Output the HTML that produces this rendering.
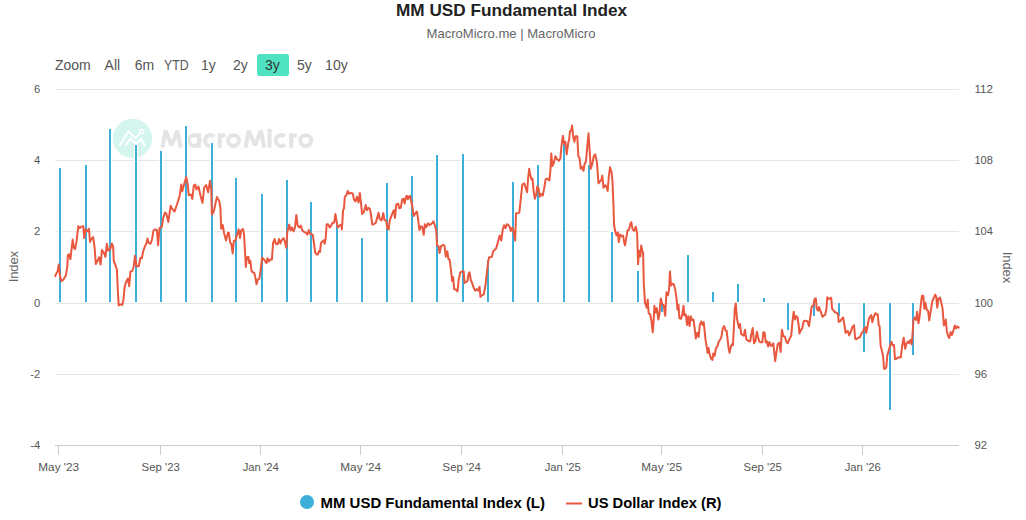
<!DOCTYPE html>
<html><head><meta charset="utf-8"><title>MM USD Fundamental Index</title>
<style>
html,body{margin:0;padding:0;background:#fff;}
body{width:1026px;height:520px;overflow:hidden;font-family:"Liberation Sans",sans-serif;}
svg{display:block;font-family:"Liberation Sans",sans-serif;}
</style></head><body>
<svg width="1026" height="520" viewBox="0 0 1026 520">
<rect width="1026" height="520" fill="#fff"/>
<text x="511.5" y="16" text-anchor="middle" font-size="16.6" font-weight="bold" fill="#222" id="title" textLength="231" lengthAdjust="spacingAndGlyphs">MM USD Fundamental Index</text>
<text x="511" y="38" text-anchor="middle" font-size="13" fill="#666" id="sub" textLength="169" lengthAdjust="spacingAndGlyphs">MacroMicro.me | MacroMicro</text>
<text x="55" y="70" font-size="14" fill="#555" id="zoom">Zoom</text>
<rect x="257" y="54" width="32" height="22" rx="2.5" fill="#50e3c2"/>
<text x="112.4" y="70" text-anchor="middle" font-size="14" fill="#555">All</text>
<text x="144.4" y="70" text-anchor="middle" font-size="14" fill="#555">6m</text>
<text x="176.4" y="70" text-anchor="middle" font-size="14" fill="#555" textLength="24.7" lengthAdjust="spacingAndGlyphs">YTD</text>
<text x="208.4" y="70" text-anchor="middle" font-size="14" fill="#555">1y</text>
<text x="240.4" y="70" text-anchor="middle" font-size="14" fill="#555">2y</text>
<text x="272.4" y="70" text-anchor="middle" font-size="14" fill="#333">3y</text>
<text x="304.4" y="70" text-anchor="middle" font-size="14" fill="#555">5y</text>
<text x="336.4" y="70" text-anchor="middle" font-size="14" fill="#555">10y</text>
<path d="M55 89.5H959" stroke="#e6e6e6" stroke-width="1" fill="none"/>
<path d="M55 160.5H959" stroke="#e6e6e6" stroke-width="1" fill="none"/>
<path d="M55 231.5H959" stroke="#e6e6e6" stroke-width="1" fill="none"/>
<path d="M55 303.5H959" stroke="#e6e6e6" stroke-width="1" fill="none"/>
<path d="M55 374.5H959" stroke="#e6e6e6" stroke-width="1" fill="none"/>
<g id="wm"><circle cx="132.5" cy="138.4" r="19.6" fill="#d4f6ee"/><path d="M119.4 146L128.4 131.5L135.6 138.2L140.2 132.9" stroke="#fff" stroke-width="1.9" fill="none"/><circle cx="141.7" cy="131.4" r="2" stroke="#fff" stroke-width="1.3" fill="none"/><path d="M125.5 146L130.2 138.8L136 143.8L141.3 138.8L144.9 146" stroke="#fff" stroke-width="1.9" fill="none"/><g fill="none" stroke="#e3e4e6" stroke-width="4.0"><path d="M162.3 147.7L165.6 130.7L171.5 145.2L177.4 130.7L180.7 147.7" stroke-linejoin="miter" stroke-miterlimit="2"/><circle cx="194.4" cy="140.6" r="5.45"/><path d="M198.9 133.2V147.7"/><path d="M214.1 136.5A5.45 5.45 0 1 0 214.1 144.6"/><path d="M219.7 133.2V147.7"/><path d="M219.7 141.6C219.7 134.7 222.2 135.2 225.3 135.4"/><circle cx="233.5" cy="140.6" r="5.45"/><path d="M245.5 147.7L248.8 130.7L254.9 145.2L260.9 130.7L264.3 147.7" stroke-linejoin="miter" stroke-miterlimit="2"/><path d="M269.5 133.2V147.7"/><path d="M284.9 136.5A5.45 5.45 0 1 0 284.9 144.6"/><path d="M291.2 133.2V147.7"/><path d="M291.2 141.6C291.2 134.7 293.7 135.2 296.8 135.4"/><circle cx="305.7" cy="140.6" r="5.45"/></g><circle cx="269.5" cy="130.9" r="2.4" fill="#e3e4e6"/></g>
<rect x="58" y="167" width="4" height="136" fill="#fff"/><rect x="59" y="168" width="2" height="134" fill="#3bafda"/>
<rect x="84" y="164" width="4" height="139" fill="#fff"/><rect x="85" y="165" width="2" height="137" fill="#3bafda"/>
<rect x="108" y="128" width="4" height="175" fill="#fff"/><rect x="109" y="129" width="2" height="173" fill="#3bafda"/>
<rect x="134" y="144" width="4" height="159" fill="#fff"/><rect x="135" y="145" width="2" height="157" fill="#3bafda"/>
<rect x="159" y="150" width="4" height="153" fill="#fff"/><rect x="160" y="151" width="2" height="151" fill="#3bafda"/>
<rect x="184" y="125" width="4" height="178" fill="#fff"/><rect x="185" y="126" width="2" height="176" fill="#3bafda"/>
<rect x="210" y="142" width="4" height="161" fill="#fff"/><rect x="211" y="143" width="2" height="159" fill="#3bafda"/>
<rect x="234" y="177" width="4" height="126" fill="#fff"/><rect x="235" y="178" width="2" height="124" fill="#3bafda"/>
<rect x="260" y="193" width="4" height="110" fill="#fff"/><rect x="261" y="194" width="2" height="108" fill="#3bafda"/>
<rect x="285" y="179" width="4" height="124" fill="#fff"/><rect x="286" y="180" width="2" height="122" fill="#3bafda"/>
<rect x="309" y="201" width="4" height="102" fill="#fff"/><rect x="310" y="202" width="2" height="100" fill="#3bafda"/>
<rect x="335" y="223" width="4" height="80" fill="#fff"/><rect x="336" y="224" width="2" height="78" fill="#3bafda"/>
<rect x="360" y="237" width="4" height="66" fill="#fff"/><rect x="361" y="238" width="2" height="64" fill="#3bafda"/>
<rect x="385" y="182" width="4" height="121" fill="#fff"/><rect x="386" y="183" width="2" height="119" fill="#3bafda"/>
<rect x="410" y="175" width="4" height="128" fill="#fff"/><rect x="411" y="176" width="2" height="126" fill="#3bafda"/>
<rect x="435" y="154" width="4" height="149" fill="#fff"/><rect x="436" y="155" width="2" height="147" fill="#3bafda"/>
<rect x="461" y="153" width="4" height="150" fill="#fff"/><rect x="462" y="154" width="2" height="148" fill="#3bafda"/>
<rect x="486" y="259" width="4" height="44" fill="#fff"/><rect x="487" y="260" width="2" height="42" fill="#3bafda"/>
<rect x="511" y="181" width="4" height="122" fill="#fff"/><rect x="512" y="182" width="2" height="120" fill="#3bafda"/>
<rect x="536" y="164" width="4" height="139" fill="#fff"/><rect x="537" y="165" width="2" height="137" fill="#3bafda"/>
<rect x="562" y="143" width="4" height="160" fill="#fff"/><rect x="563" y="144" width="2" height="158" fill="#3bafda"/>
<rect x="587" y="164" width="4" height="139" fill="#fff"/><rect x="588" y="165" width="2" height="137" fill="#3bafda"/>
<rect x="610" y="231" width="4" height="72" fill="#fff"/><rect x="611" y="232" width="2" height="70" fill="#3bafda"/>
<rect x="636" y="270" width="4" height="33" fill="#fff"/><rect x="637" y="271" width="2" height="31" fill="#3bafda"/>
<rect x="660" y="303" width="4" height="10" fill="#fff"/><rect x="661" y="303" width="2" height="9" fill="#3bafda"/>
<rect x="686" y="254" width="4" height="49" fill="#fff"/><rect x="687" y="255" width="2" height="47" fill="#3bafda"/>
<rect x="711" y="291" width="4" height="12" fill="#fff"/><rect x="712" y="292" width="2" height="10" fill="#3bafda"/>
<rect x="736" y="283" width="4" height="20" fill="#fff"/><rect x="737" y="284" width="2" height="18" fill="#3bafda"/>
<rect x="762" y="297" width="4" height="6" fill="#fff"/><rect x="763" y="298" width="2" height="4" fill="#3bafda"/>
<rect x="786" y="303" width="4" height="28" fill="#fff"/><rect x="787" y="303" width="2" height="27" fill="#3bafda"/>
<rect x="812" y="303" width="4" height="14" fill="#fff"/><rect x="813" y="303" width="2" height="13" fill="#3bafda"/>
<rect x="837" y="303" width="4" height="14" fill="#fff"/><rect x="838" y="303" width="2" height="13" fill="#3bafda"/>
<rect x="862" y="303" width="4" height="50" fill="#fff"/><rect x="863" y="303" width="2" height="49" fill="#3bafda"/>
<rect x="888" y="303" width="4" height="108" fill="#fff"/><rect x="889" y="303" width="2" height="107" fill="#3bafda"/>
<rect x="911" y="303" width="4" height="53" fill="#fff"/><rect x="912" y="303" width="2" height="52" fill="#3bafda"/>
<path d="M55.2 276.2L56.7 272.7L57.7 271.2L58.7 264.6L60.0 276.5L61.5 281.3L63.5 279.4L65.8 275.6L67.3 266.9L67.9 255.0L69.2 254.4L70.4 259.2L71.5 249.6L72.7 239.6L73.8 247.7L75.0 249.2L76.5 241.9L78.3 226.2L79.8 228.1L81.7 226.5L83.3 226.2L84.2 238.1L85.6 229.4L87.5 231.3L89.0 228.8L90.0 241.9L91.3 239.0L93.1 237.1L94.6 247.7L95.8 264.0L97.3 261.2L99.2 257.3L100.6 264.6L101.9 250.0L103.8 252.5L105.4 256.9L106.9 243.8L108.1 250.6L110.0 249.6L111.9 243.5L113.1 246.7L113.8 261.2L115.4 265.0L116.9 269.8L117.7 288.1L118.7 305.4L120.8 304.4L122.3 305.0L123.5 299.6L124.6 287.1L126.0 282.3L127.9 278.5L129.2 286.2L130.4 271.7L132.3 270.8L133.7 266.5L135.0 255.8L136.5 266.5L138.8 266.0L140.4 257.7L141.9 258.3L143.1 251.5L144.8 246.7L146.2 243.8L147.5 238.5L148.7 242.9L150.4 243.8L151.9 240.0L153.5 230.4L155.4 229.4L156.9 230.0L158.1 245.2L159.6 227.9L161.9 226.9L163.1 218.3L165.0 212.5L166.3 213.5L168.3 222.1L170.6 205.8L172.1 208.7L174.6 211.5L176.9 204.8L179.8 195.2L181.2 184.6L182.3 191.3L184.0 184.6L186.2 177.3L187.7 184.6L188.8 195.2L191.3 194.6L192.3 199.0L193.8 185.6L195.2 184.6L196.5 189.4L198.5 186.5L200.4 195.2L202.5 202.9L204.2 187.5L206.2 185.0L208.1 192.3L210.0 180.8L211.2 188.5L211.9 214.4L213.8 211.5L215.4 203.8L216.9 197.1L219.2 201.0L220.4 207.7L221.2 228.8L222.7 225.0L224.0 232.7L226.0 240.4L227.9 232.7L228.8 232.7L230.0 241.9L231.5 244.8L232.7 253.5L233.8 241.0L235.4 240.4L236.9 235.2L238.7 229.4L240.0 238.1L241.2 230.4L243.1 229.0L244.0 234.2L245.0 251.5L245.8 266.9L246.9 257.3L248.5 256.9L249.2 263.1L250.4 260.8L251.5 270.8L252.7 272.3L254.2 272.7L255.4 277.5L256.5 284.2L257.9 279.4L259.4 278.8L260.8 268.8L262.1 257.7L263.7 259.2L265.2 261.2L266.5 263.1L267.5 258.3L269.0 261.5L270.0 259.6L271.9 259.6L273.1 242.9L274.6 239.0L275.8 243.8L277.7 244.2L279.0 239.0L280.4 243.5L281.5 240.4L283.5 238.1L284.8 241.5L286.3 247.7L287.3 232.3L289.2 224.6L290.6 230.4L291.9 227.5L293.5 231.3L295.0 227.5L296.3 215.0L297.7 225.6L299.2 227.5L300.8 225.6L302.1 230.0L304.0 231.9L306.0 232.7L307.3 234.6L308.8 230.0L310.2 233.8L312.7 234.6L313.8 241.9L315.2 252.5L316.5 254.4L317.9 254.4L318.8 251.2L320.0 251.9L321.0 242.9L322.3 241.5L323.8 240.4L324.6 243.8L325.6 239.0L326.7 224.2L328.5 224.6L329.6 227.5L331.0 226.2L332.5 222.7L334.2 222.7L335.4 214.0L336.7 221.7L337.7 227.5L339.6 225.6L341.2 224.6L341.9 229.4L343.1 210.2L344.0 208.3L344.8 196.7L346.3 195.4L347.7 191.0L349.2 193.8L350.8 192.9L352.7 193.5L354.0 199.6L355.4 201.5L356.9 196.7L358.5 202.5L359.8 192.9L360.8 201.5L362.1 214.0L363.7 212.1L364.6 209.2L365.8 205.0L366.9 210.2L368.5 207.7L370.0 209.2L371.0 215.0L372.3 224.6L373.8 224.2L375.8 222.7L377.1 217.9L378.5 212.7L379.6 218.8L381.5 220.4L383.3 213.1L384.4 219.8L386.2 220.8L387.3 228.5L388.7 229.4L389.6 220.8L392.5 213.1L393.8 210.2L395.0 217.9L396.3 204.4L398.3 203.8L399.2 208.3L400.8 207.7L402.1 199.6L403.5 198.7L404.6 203.5L406.0 196.7L406.9 195.8L407.9 199.2L408.8 196.7L410.0 195.8L411.2 201.5L412.3 206.3L413.7 216.0L415.6 213.1L416.9 211.5L418.1 219.2L419.4 230.0L421.0 226.2L422.3 227.1L423.7 234.8L424.8 224.2L426.2 227.1L428.1 223.3L429.6 225.2L431.5 223.8L433.5 221.3L434.8 225.2L436.2 230.0L437.1 245.4L438.7 246.3L439.6 253.1L441.2 245.8L443.1 245.0L444.4 245.4L445.8 256.5L447.3 251.2L448.3 258.5L449.6 259.8L450.8 268.5L452.1 281.0L453.1 277.1L454.2 289.2L456.0 289.6L457.5 291.5L458.8 279.0L460.4 272.3L462.3 271.3L463.7 271.3L464.6 282.9L466.2 281.9L467.5 281.0L468.5 274.2L469.6 272.3L470.8 280.0L472.3 283.5L473.8 288.1L475.2 290.6L476.7 289.2L478.1 290.6L479.6 286.7L480.4 296.9L481.9 295.4L483.8 294.4L485.4 285.8L486.7 274.2L488.1 262.7L489.0 257.3L490.6 257.3L491.9 256.9L493.1 251.2L494.4 250.2L496.0 248.8L497.3 244.4L498.8 238.7L499.8 235.4L501.2 240.6L502.7 230.0L504.0 225.2L505.4 228.1L506.9 224.2L508.5 225.2L509.8 227.1L510.8 231.0L512.3 227.7L513.7 231.9L515.2 240.6L516.0 213.5L518.1 213.1L519.4 212.1L520.8 198.7L522.3 184.6L524.2 183.3L525.8 188.1L527.1 192.3L528.1 178.5L529.2 168.8L530.4 175.6L531.5 179.4L532.5 178.5L533.5 190.4L534.8 198.7L536.2 194.8L537.3 186.2L538.7 189.0L539.6 196.7L541.3 193.8L542.7 195.8L544.2 188.1L545.6 179.4L546.9 178.5L549.4 180.4L550.4 170.8L551.3 153.5L552.3 166.0L553.8 163.1L555.4 156.3L557.1 159.2L559.0 160.8L560.4 158.3L561.5 145.8L562.9 135.8L564.2 143.8L565.4 141.9L566.7 154.4L568.1 143.8L569.2 139.0L570.0 131.3L571.2 130.4L572.1 125.6L573.1 136.2L574.4 141.9L575.4 136.2L577.3 136.2L578.3 156.3L579.6 158.3L580.8 168.8L582.1 166.9L583.5 170.8L584.6 164.0L586.0 161.2L587.3 146.7L588.5 133.3L589.4 146.7L590.8 168.8L592.3 164.0L593.7 156.3L595.2 154.4L596.9 162.1L598.5 183.3L600.0 181.3L601.2 180.4L602.3 175.6L603.5 187.7L605.2 185.2L606.5 186.5L607.7 191.0L608.8 176.5L610.0 167.3L611.5 171.7L612.5 181.3L613.5 206.5L614.0 223.8L615.0 230.6L616.5 235.4L617.9 232.5L618.8 242.1L620.2 234.4L621.7 236.3L623.1 235.8L624.2 242.1L625.0 245.4L626.2 238.3L627.5 230.6L629.0 229.6L630.4 223.8L631.3 222.3L632.7 229.6L634.2 230.6L635.8 226.7L637.1 233.5L638.1 264.2L639.0 250.8L640.4 256.5L641.2 245.4L642.3 250.8L643.1 252.7L643.8 283.5L645.0 302.9L645.4 303.8L646.7 307.7L647.7 299.6L648.7 313.5L650.2 314.4L651.5 321.2L652.7 332.3L653.5 323.1L654.4 305.8L655.6 312.5L656.9 308.1L658.3 319.6L659.4 314.4L660.8 298.5L662.1 303.8L663.7 305.4L665.2 315.8L666.5 292.3L667.9 295.2L669.0 290.4L670.0 271.5L671.0 285.6L672.3 283.7L673.8 284.2L675.2 289.4L676.5 298.1L677.5 309.6L678.5 304.8L679.4 318.3L681.0 318.8L682.3 314.4L683.5 305.8L684.4 315.4L685.8 314.4L687.1 325.0L688.3 316.3L689.6 326.0L690.8 316.3L692.1 320.2L693.5 319.6L694.6 327.9L695.8 338.5L697.3 332.7L698.7 336.9L699.8 325.0L701.2 321.5L702.5 325.0L703.7 322.1L704.6 330.8L705.6 340.4L706.9 347.7L707.5 352.9L708.5 348.1L709.6 353.8L710.8 358.1L712.3 360.0L713.3 353.5L714.6 355.8L716.0 348.1L717.5 346.2L718.8 341.3L720.4 339.4L721.5 336.5L722.7 328.5L724.2 326.0L725.6 330.8L726.7 330.8L727.7 340.4L728.7 349.0L729.6 352.9L731.0 346.2L731.9 344.2L732.9 345.2L733.8 328.8L734.8 308.7L735.8 303.5L736.9 318.3L738.1 324.0L739.0 327.9L740.0 324.0L741.2 334.2L742.5 334.6L743.8 335.6L745.0 329.8L746.3 339.4L747.7 340.4L749.2 341.3L750.2 341.3L751.2 334.6L752.7 327.9L754.0 343.3L755.4 341.3L756.9 331.7L757.9 336.2L759.2 341.3L760.8 342.3L762.3 342.3L763.3 332.3L764.6 332.7L765.8 342.3L766.9 341.3L768.1 346.5L769.4 341.9L770.8 345.8L772.3 345.2L773.3 343.3L774.2 351.9L775.2 361.2L776.5 351.9L777.7 344.2L779.4 342.7L780.6 351.9L781.9 329.8L783.3 336.2L784.8 336.5L786.2 341.3L787.7 343.3L789.2 339.4L791.2 335.8L792.5 321.3L793.7 311.7L795.0 319.4L796.3 316.2L797.5 317.5L798.8 326.2L799.4 333.5L800.8 330.4L802.3 328.1L803.7 321.3L805.2 320.8L807.5 321.3L809.0 326.2L810.4 316.5L811.7 306.5L813.3 306.0L814.6 298.8L815.8 298.3L816.7 308.8L818.1 310.8L819.0 306.9L820.4 310.8L821.5 313.7L822.5 316.9L823.8 315.6L825.2 314.6L826.3 309.8L827.3 297.3L828.7 299.2L830.0 298.3L831.2 297.7L832.1 308.8L833.5 310.4L835.0 312.3L836.3 312.7L837.9 313.7L838.8 321.9L840.2 321.3L841.5 319.4L843.1 317.5L844.4 324.6L845.6 332.9L846.9 331.5L847.9 331.0L849.2 335.4L850.8 331.9L852.3 327.1L854.0 325.2L855.2 338.7L856.5 339.2L858.1 337.7L859.8 337.3L861.3 333.8L862.9 331.5L864.2 329.0L865.4 327.1L866.2 332.9L867.7 325.2L869.0 318.5L870.4 316.2L871.3 315.0L872.3 322.3L873.5 317.5L875.4 313.1L876.3 314.6L877.7 314.2L878.7 325.2L879.6 326.2L880.6 345.4L881.9 350.8L883.1 356.0L884.0 368.8L885.4 368.5L886.3 367.5L887.3 355.4L888.8 350.2L890.2 345.4L891.5 341.9L892.7 345.4L894.0 345.0L895.0 359.2L896.5 358.8L898.3 357.3L900.8 357.5L902.1 346.3L903.7 337.7L905.2 348.8L906.5 343.5L907.9 341.5L909.0 343.1L910.4 340.0L911.7 344.4L912.7 331.9L913.5 320.0L914.8 317.5L916.2 320.0L917.1 311.7L918.5 323.3L919.6 316.5L921.0 303.1L921.9 295.8L923.3 295.8L924.4 308.8L925.4 302.7L926.7 309.8L928.1 310.8L929.2 320.4L932.3 301.3L933.7 298.1L935.2 294.6L936.2 296.5L937.2 307.7L938.5 298.5L940.0 297.5L941.4 303.3L942.5 308.1L943.9 325.4L944.8 324.4L945.8 319.6L946.8 331.2L948.1 336.0L949.3 337.9L950.6 332.1L952.0 335.0L953.5 330.2L954.8 325.4L956.0 328.3L957.5 326.3L958.7 327.7" stroke="#e9573f" stroke-width="2" fill="none" stroke-linejoin="round" stroke-linecap="round"/>
<path d="M55 445.5H959" stroke="#ccc" stroke-width="1" fill="none"/>
<path d="M58.5 445V455" stroke="#ccc" stroke-width="1"/>
<text x="38.3" y="471" font-size="11.3" fill="#555" textLength="40.8" lengthAdjust="spacingAndGlyphs">May '23</text>
<path d="M160.5 445V455" stroke="#ccc" stroke-width="1"/>
<text x="141.6" y="471" font-size="11.3" fill="#555" textLength="38.2" lengthAdjust="spacingAndGlyphs">Sep '23</text>
<path d="M260.5 445V455" stroke="#ccc" stroke-width="1"/>
<text x="242.7" y="471" font-size="11.3" fill="#555" textLength="36" lengthAdjust="spacingAndGlyphs">Jan '24</text>
<path d="M360.5 445V455" stroke="#ccc" stroke-width="1"/>
<text x="340.3" y="471" font-size="11.3" fill="#555" textLength="40.8" lengthAdjust="spacingAndGlyphs">May '24</text>
<path d="M461.5 445V455" stroke="#ccc" stroke-width="1"/>
<text x="442.6" y="471" font-size="11.3" fill="#555" textLength="38.2" lengthAdjust="spacingAndGlyphs">Sep '24</text>
<path d="M562.5 445V455" stroke="#ccc" stroke-width="1"/>
<text x="544.7" y="471" font-size="11.3" fill="#555" textLength="36" lengthAdjust="spacingAndGlyphs">Jan '25</text>
<path d="M661.5 445V455" stroke="#ccc" stroke-width="1"/>
<text x="641.3" y="471" font-size="11.3" fill="#555" textLength="40.8" lengthAdjust="spacingAndGlyphs">May '25</text>
<path d="M762.5 445V455" stroke="#ccc" stroke-width="1"/>
<text x="743.6" y="471" font-size="11.3" fill="#555" textLength="38.2" lengthAdjust="spacingAndGlyphs">Sep '25</text>
<path d="M862.5 445V455" stroke="#ccc" stroke-width="1"/>
<text x="844.7" y="471" font-size="11.3" fill="#555" textLength="36" lengthAdjust="spacingAndGlyphs">Jan '26</text>
<text x="40.3" y="93.0" text-anchor="end" font-size="11.3" fill="#555">6</text>
<text x="40.3" y="164.0" text-anchor="end" font-size="11.3" fill="#555">4</text>
<text x="40.3" y="235.0" text-anchor="end" font-size="11.3" fill="#555">2</text>
<text x="40.3" y="307.0" text-anchor="end" font-size="11.3" fill="#555">0</text>
<text x="40.3" y="378.0" text-anchor="end" font-size="11.3" fill="#555">-2</text>
<text x="40.3" y="449.0" text-anchor="end" font-size="11.3" fill="#555">-4</text>
<text x="974.4" y="93.0" font-size="11.3" fill="#555" textLength="18.5" lengthAdjust="spacingAndGlyphs">112</text>
<text x="974.4" y="164.0" font-size="11.3" fill="#555" textLength="18.5" lengthAdjust="spacingAndGlyphs">108</text>
<text x="974.4" y="235.0" font-size="11.3" fill="#555" textLength="18.5" lengthAdjust="spacingAndGlyphs">104</text>
<text x="974.4" y="307.0" font-size="11.3" fill="#555" textLength="18.5" lengthAdjust="spacingAndGlyphs">100</text>
<text x="974.4" y="378.0" font-size="11.3" fill="#555">96</text>
<text x="974.4" y="449.0" font-size="11.3" fill="#555">92</text>
<text transform="translate(18.2,282.3) rotate(-90)" font-size="13" fill="#666" textLength="31.4" lengthAdjust="spacing">Index</text>
<text transform="translate(1002.8,251.7) rotate(90)" font-size="13" fill="#666" textLength="31.6" lengthAdjust="spacing">Index</text>
<circle cx="307" cy="502" r="7" fill="#3bafda"/>
<text x="320.5" y="508" font-size="15" font-weight="bold" fill="#000" id="lg1" textLength="224.5" lengthAdjust="spacingAndGlyphs">MM USD Fundamental Index (L)</text>
<path d="M566 503.5H582" stroke="#e9573f" stroke-width="2"/>
<text x="588" y="508" font-size="15" font-weight="bold" fill="#000" id="lg2" textLength="133.5" lengthAdjust="spacingAndGlyphs">US Dollar Index (R)</text>
</svg></body></html>
